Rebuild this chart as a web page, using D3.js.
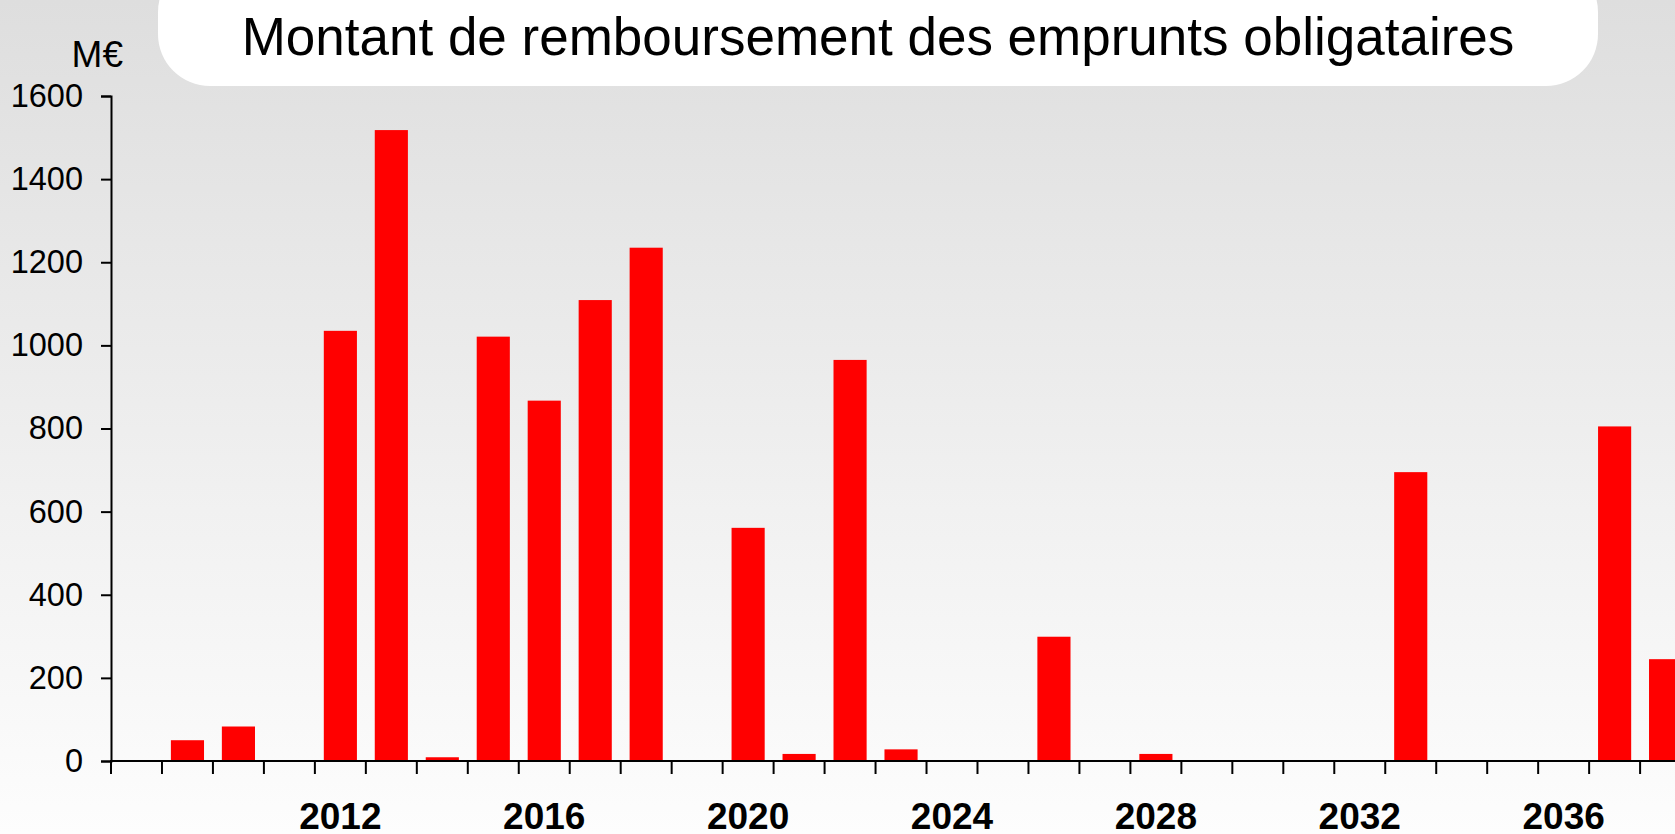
<!DOCTYPE html>
<html>
<head>
<meta charset="utf-8">
<script src="https://cdn.jsdelivr.net/npm/d3@7"></script>
<style>
  html, body { margin: 0; padding: 0; overflow: hidden; }
  body { width: 1675px; height: 834px; }
  text { font-family: "Liberation Sans", Arial, sans-serif; fill: #000; }
</style>
</head>
<body>
<div id="chart"></div>
<script>
// Dimensions
const width = 1675;
const height = 834;

// Données (M€ par année)
const years = d3.range(2008, 2039);
const values = [0, 50, 83, 0, 1035, 1518, 9, 1021, 867, 1109, 1235, 0, 561, 17, 965, 28,
  0, 0, 299, 0, 17, 0, 0, 0, 0, 695, 0, 0, 0, 805, 245];
const labelYears = [2012, 2016, 2020, 2024, 2028, 2032, 2036];
const yTicks = [0, 200, 400, 600, 800, 1000, 1200, 1400, 1600];

const title = "Montant de remboursement des emprunts obligataires";
const unit = "M€";

const data = years.map((y, i) => ({ year: y, value: values[i] }));

// SVG
const svg = d3.select("#chart")
  .append("svg")
  .attr("width", width)
  .attr("height", height);

// Fond dégradé
const defs = svg.append("defs");
const grad = defs.append("linearGradient")
  .attr("id", "bg")
  .attr("x1", 0).attr("y1", 0).attr("x2", 0).attr("y2", 1);
grad.append("stop").attr("offset", "0%").attr("stop-color", "#dedede");
grad.append("stop").attr("offset", "100%").attr("stop-color", "#fdfdfd");

svg.append("rect")
  .attr("width", width)
  .attr("height", height)
  .attr("fill", "url(#bg)");

// Cartouche du titre
svg.append("rect")
  .attr("x", 158)
  .attr("y", -40)
  .attr("width", 1440)
  .attr("height", 126)
  .attr("rx", 52)
  .attr("fill", "#fff");

svg.append("text")
  .attr("x", 878)
  .attr("y", 55)
  .attr("text-anchor", "middle")
  .style("font-size", "53px")
  .text(title);

// Échelles
const x0 = 111;
const step = 50.97;
const x = d3.scaleBand()
  .domain(years)
  .range([x0, x0 + step * years.length])
  .paddingInner(0.35)
  .paddingOuter(0.175);

const y = d3.scaleLinear()
  .domain([0, 1600])
  .range([761, 96]);

// Barres
svg.append("g")
  .selectAll("rect")
  .data(data.filter(d => d.value > 0))
  .join("rect")
  .attr("x", d => x(d.year))
  .attr("y", d => y(d.value))
  .attr("width", x.bandwidth())
  .attr("height", d => y(0) - y(d.value))
  .attr("fill", "#ff0000");

// Axe Y
const yAxis = svg.append("g")
  .attr("transform", `translate(${x0},0)`)
  .call(d3.axisLeft(y).tickValues(yTicks).tickSize(10).tickPadding(18).tickFormat(d3.format("d")));
yAxis.select(".domain").attr("stroke", "#000").attr("stroke-width", 2);
yAxis.selectAll(".tick line").attr("stroke", "#000").attr("stroke-width", 2);
yAxis.selectAll("text")
  .style("font-size", "32.5px")
  .attr("font-family", null);

svg.append("text")
  .attr("x", 123)
  .attr("y", 67)
  .attr("text-anchor", "end")
  .style("font-size", "37px")
  .text(unit);

// Axe X : ligne, graduations aux limites des catégories, étiquettes tous les 4 ans
const gx = svg.append("g");
gx.append("line")
  .attr("x1", x0 - 1)
  .attr("x2", width)
  .attr("y1", y(0))
  .attr("y2", y(0))
  .attr("stroke", "#000")
  .attr("stroke-width", 2);

const half = x.step() * x.paddingInner() / 2;
gx.selectAll("line.tick")
  .data(years)
  .join("line")
  .attr("class", "tick")
  .attr("x1", d => x(d) - half)
  .attr("x2", d => x(d) - half)
  .attr("y1", y(0))
  .attr("y2", y(0) + 13)
  .attr("stroke", "#000")
  .attr("stroke-width", 2);

gx.selectAll("text")
  .data(labelYears)
  .join("text")
  .attr("x", d => x(d) + x.bandwidth() / 2)
  .attr("y", 829)
  .attr("text-anchor", "middle")
  .style("font-size", "37px")
  .style("font-weight", "bold")
  .text(d => d);
</script>
</body>
</html>
